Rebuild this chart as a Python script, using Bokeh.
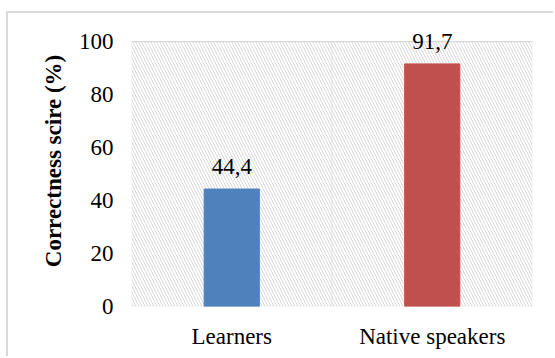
from bokeh.plotting import figure
from bokeh.models import ColumnDataSource, Range1d, FixedTicker, BoxAnnotation, LabelSet
from bokeh.embed import file_html
from bokeh.resources import INLINE

# Correctness scores per group
groups = ["Learners", "Native speakers"]
scores = [44.4, 91.7]
score_labels = ["44,4", "91,7"]
bar_colors = ["#4f81bd", "#c0504d"]
y_ticks = [0, 20, 40, 60, 80, 100]
y_max = 100

FONT = "Liberation Serif"
GRID = "#d9d9d9"

xs = [i + 0.5 for i in range(len(groups))]
src = ColumnDataSource(dict(x=xs, top=scores, label=score_labels, color=bar_colors))

# the range reaches a little above 100 so the top value label has room
p = figure(width=547, height=345, output_backend="svg", toolbar_location=None,
           x_range=Range1d(0, len(groups)), y_range=Range1d(0, 110),
           min_border_left=123, min_border_right=23, min_border_top=2,
           min_border_bottom=52)
p.styles = {"margin-left": "6px", "margin-top": "11px",
            "border-left": "2px solid #d9d9d9", "border-top": "2px solid #d9d9d9"}
p.outline_line_color = None

# hatched cell behind each group, outlined in light grey
for i in range(len(groups)):
    p.add_layout(BoxAnnotation(left=i, right=i + 1, bottom=0, top=y_max,
                               fill_color="white", fill_alpha=1.0,
                               line_color=GRID, line_width=1.5,
                               hatch_pattern="\\", hatch_color=GRID, hatch_scale=6,
                               hatch_weight=1, level="underlay"))

p.vbar(x="x", top="top", width=0.275, color="color", source=src)

p.add_layout(LabelSet(x="x", y="top", text="label", source=src, text_align="center",
                      text_baseline="alphabetic", y_offset=15,
                      text_font=FONT, text_font_size="23px", text_color="black"))

p.xgrid.visible = False
p.ygrid.ticker = FixedTicker(ticks=y_ticks)
p.ygrid.grid_line_color = GRID
p.ygrid.level = "underlay"

p.xaxis.ticker = FixedTicker(ticks=xs)
p.xaxis.major_label_overrides = {x: g for x, g in zip(xs, groups)}
p.yaxis.ticker = FixedTicker(ticks=y_ticks)

for ax in (p.xaxis, p.yaxis):
    ax.axis_line_color = None
    ax.major_tick_line_color = None
    ax.minor_tick_line_color = None
    ax.major_label_text_font = FONT
    ax.major_label_text_font_size = "23px"
    ax.major_label_text_color = "black"

p.xaxis.major_label_standoff = 11
p.yaxis.major_label_standoff = 12

p.yaxis.axis_label = "Correctness scire (%)"
p.yaxis.axis_label_text_font = FONT
p.yaxis.axis_label_text_font_size = "23px"
p.yaxis.axis_label_text_font_style = "bold"
p.yaxis.axis_label_text_color = "black"
p.yaxis.axis_label_standoff = 10

open("out.html", "w").write(file_html(p, INLINE))
